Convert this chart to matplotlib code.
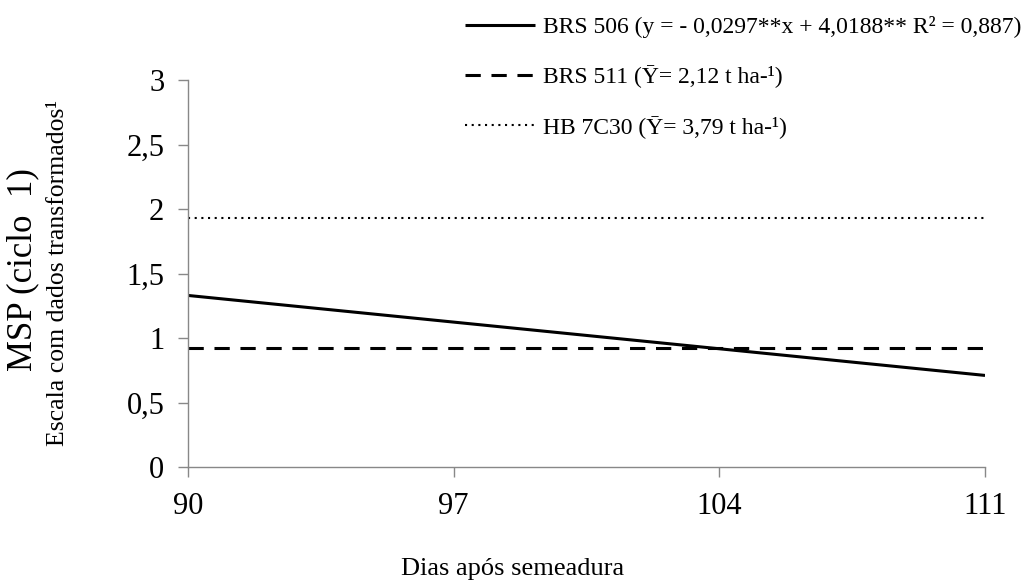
import matplotlib
matplotlib.use('Agg')
from matplotlib import pyplot as plt

plt.rcParams['font.family'] = ['Liberation Serif', 'DejaVu Serif']

# data
dias = [90, 111]
brs506 = [1.33, 0.71]
brs511 = [0.92, 0.92]
hb7c30 = [1.93, 1.93]

x_ticks = [90, 97, 104, 111]
y_ticks = [0, 0.5, 1, 1.5, 2, 2.5, 3]
y_labels = ['0', '0,5', '1', '1,5', '2', '2,5', '3']

labels = [
    'BRS 506 (y = - 0,0297**x + 4,0188** R\u00b2 = 0,887)',
    'BRS 511 (\u0232= 2,12 t ha-\u00b9)',
    'HB 7C30 (\u0232= 3,79 t ha-\u00b9)',
]

fig = plt.figure(figsize=(10.25, 5.87), dpi=100)
ax = fig.add_axes([0.1834, 0.2044, 0.7776, 0.6593])

l1, = ax.plot(dias, brs506, color='black', lw=2.2, solid_capstyle='butt')
l2, = ax.plot(dias, brs511, color='black', lw=2.2, ls=(0, (5.0, 3.5)))
l3, = ax.plot(dias, hb7c30, color='black', lw=1.5, ls=(0, (1, 2.2)))

ax.set_xlim(90, 111)
ax.set_ylim(0, 3)
ax.set_xticks(x_ticks)
ax.set_xticklabels([str(t) for t in x_ticks])
ax.set_yticks(y_ticks)
ax.set_yticklabels(y_labels)

for s in ['top', 'right']:
    ax.spines[s].set_visible(False)
for s in ['left', 'bottom']:
    ax.spines[s].set_color('#888888')
    ax.spines[s].set_linewidth(1.0)
ax.tick_params(axis='both', colors='#888888', labelcolor='black',
               labelsize=22, length=7, width=1.0, direction='out')
ax.tick_params(axis='x', pad=11)
ax.tick_params(axis='y', pad=10)

fig.text(0.5, 0.03, 'Dias ap\u00f3s semeadura', ha='center', va='center', fontsize=19)
fig.text(0.022, 0.54, 'MSP (ciclo  1)', rotation=90, ha='center', va='center', fontsize=25)
fig.text(0.057, 0.535, 'Escala com dados transformados\u00b9', rotation=90,
         ha='center', va='center', fontsize=18.5)

fig.legend([l1, l2, l3], labels, loc='upper right', bbox_to_anchor=(0.996, 0.972),
           frameon=False, fontsize=17, handlelength=3.0, handletextpad=0.3,
           labelspacing=1.15, borderpad=0, borderaxespad=0)

fig.savefig('out.png', dpi=100)
